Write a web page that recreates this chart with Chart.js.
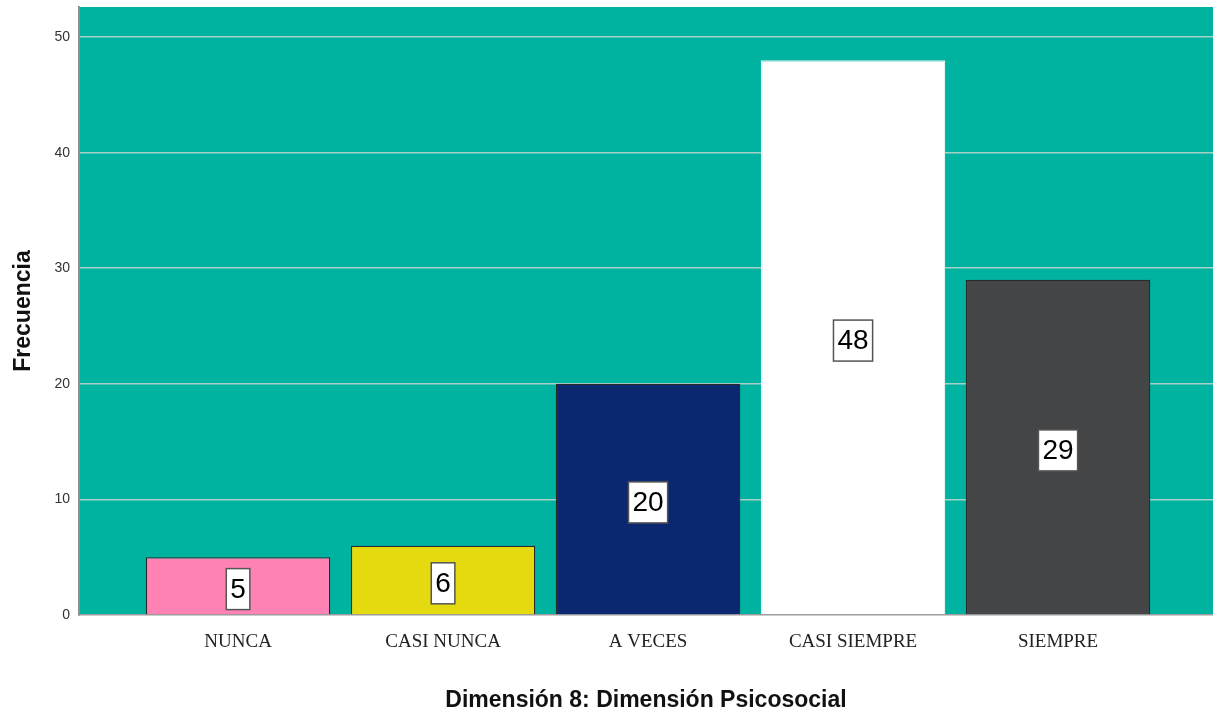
<!DOCTYPE html>
<html>
<head>
<meta charset="utf-8">
<script src="https://cdn.jsdelivr.net/npm/chart.js@4.4.1/dist/chart.umd.min.js"></script>
<style>
  html, body { margin: 0; padding: 0; background: #ffffff; }
  #c { display: block; }
</style>
</head>
<body>
<canvas id="c" width="1213" height="717"></canvas>
<script>
const categories = ["NUNCA", "CASI NUNCA", "A VECES", "CASI SIEMPRE", "SIEMPRE"];
const frecuencia = [5, 6, 20, 48, 29];
const barColors = ["#FF82B5", "#E5D910", "#0A276F", "#FFFFFF", "#444547"];
const barBorders = ["#2a2a2a", "#2a2a2a", "#2a2a2a", "#dff3f0", "#2a2a2a"];
const yTicks = [0, 10, 20, 30, 40, 50];
const xTitle = "Dimensión 8: Dimensión Psicosocial";
const yTitle = "Frecuencia";

const plotBg = {
  id: 'plotBg',
  beforeDraw(chart) {
    const {ctx, chartArea: a} = chart;
    ctx.save();
    ctx.fillStyle = '#00B3A0';
    ctx.fillRect(a.left, a.top, a.right - a.left, a.bottom - a.top);
    ctx.restore();
  }
};

const valueBoxes = {
  id: 'valueBoxes',
  afterDatasetsDraw(chart) {
    const {ctx} = chart;
    const meta = chart.getDatasetMeta(0);
    const y = chart.scales.y;
    ctx.save();
    ctx.font = '28px "Liberation Sans", Arial, sans-serif';
    ctx.textAlign = 'center';
    ctx.textBaseline = 'middle';
    meta.data.forEach((bar, i) => {
      const v = frecuencia[i];
      const cx = bar.x;
      const cy = y.getPixelForValue(v / 2) + 3;
      const tw = ctx.measureText(String(v)).width;
      const w = tw + 8, h = 41;
      ctx.fillStyle = '#ffffff';
      ctx.fillRect(cx - w / 2, cy - h / 2, w, h);
      ctx.strokeStyle = '#555555';
      ctx.lineWidth = 1.5;
      ctx.strokeRect(cx - w / 2, cy - h / 2, w, h);
      ctx.fillStyle = '#000000';
      ctx.fillText(String(v), cx, cy + 1);
    });
    ctx.restore();
  }
};

new Chart(document.getElementById('c'), {
  type: 'bar',
  data: {
    datasets: [{
      data: categories.map((c, i) => ({x: i, y: frecuencia[i]})),
      backgroundColor: barColors,
      borderColor: barBorders,
      borderWidth: 1.3,
      barPercentage: 0.9,
      categoryPercentage: 1.0
    }]
  },
  options: {
    responsive: false,
    animation: false,
    devicePixelRatio: 1,
    layout: { padding: { top: 7, right: 0, left: 0, bottom: 0 } },
    plugins: { legend: { display: false }, tooltip: { enabled: false } },
    scales: {
      x: {
        type: 'linear',
        offset: false,
        min: -0.776,
        max: 4.756,
        afterBuildTicks(axis) { axis.ticks = categories.map((c, i) => ({value: i})); },
        afterFit(axis) { axis.height = 102; axis.paddingLeft = 0; axis.paddingRight = 0; },
        grid: { display: false, drawTicks: false },
        border: { display: true, color: '#9a9a9a', width: 1.5 },
        ticks: {
          padding: 16,
          maxRotation: 0,
          autoSkip: false,
          color: '#222222',
          font: { family: '"Liberation Serif", "DejaVu Serif", serif', size: 19 },
          callback: (v) => categories[v]
        },
        title: {
          display: true,
          text: xTitle,
          color: '#111111',
          font: { family: '"Liberation Sans", Arial, sans-serif', size: 23, weight: 'bold' },
          padding: { top: 0, bottom: 3 }
        }
      },
      y: {
        min: 0,
        max: 52.6,
        afterBuildTicks(axis) { axis.ticks = yTicks.map(v => ({value: v})); },
        afterFit(axis) { axis.width = 79; axis.paddingTop = 0; axis.paddingBottom = 0; },
        grid: {
          drawTicks: false,
          color: (ctx) => ctx.tick && ctx.tick.value === 0 ? 'rgba(0,0,0,0)' : '#A9CFC9',
          lineWidth: 1.5
        },
        border: { display: true, color: '#8f8f8f', width: 2 },
        ticks: {
          padding: 9,
          color: '#333333',
          font: { family: '"Liberation Sans", Arial, sans-serif', size: 14 }
        },
        title: {
          display: true,
          text: yTitle,
          color: '#111111',
          font: { family: '"Liberation Sans", Arial, sans-serif', size: 23, weight: 'bold' },
          padding: { top: 10, bottom: 0 }
        }
      }
    }
  },
  plugins: [plotBg, valueBoxes]
});
</script>
</body>
</html>
